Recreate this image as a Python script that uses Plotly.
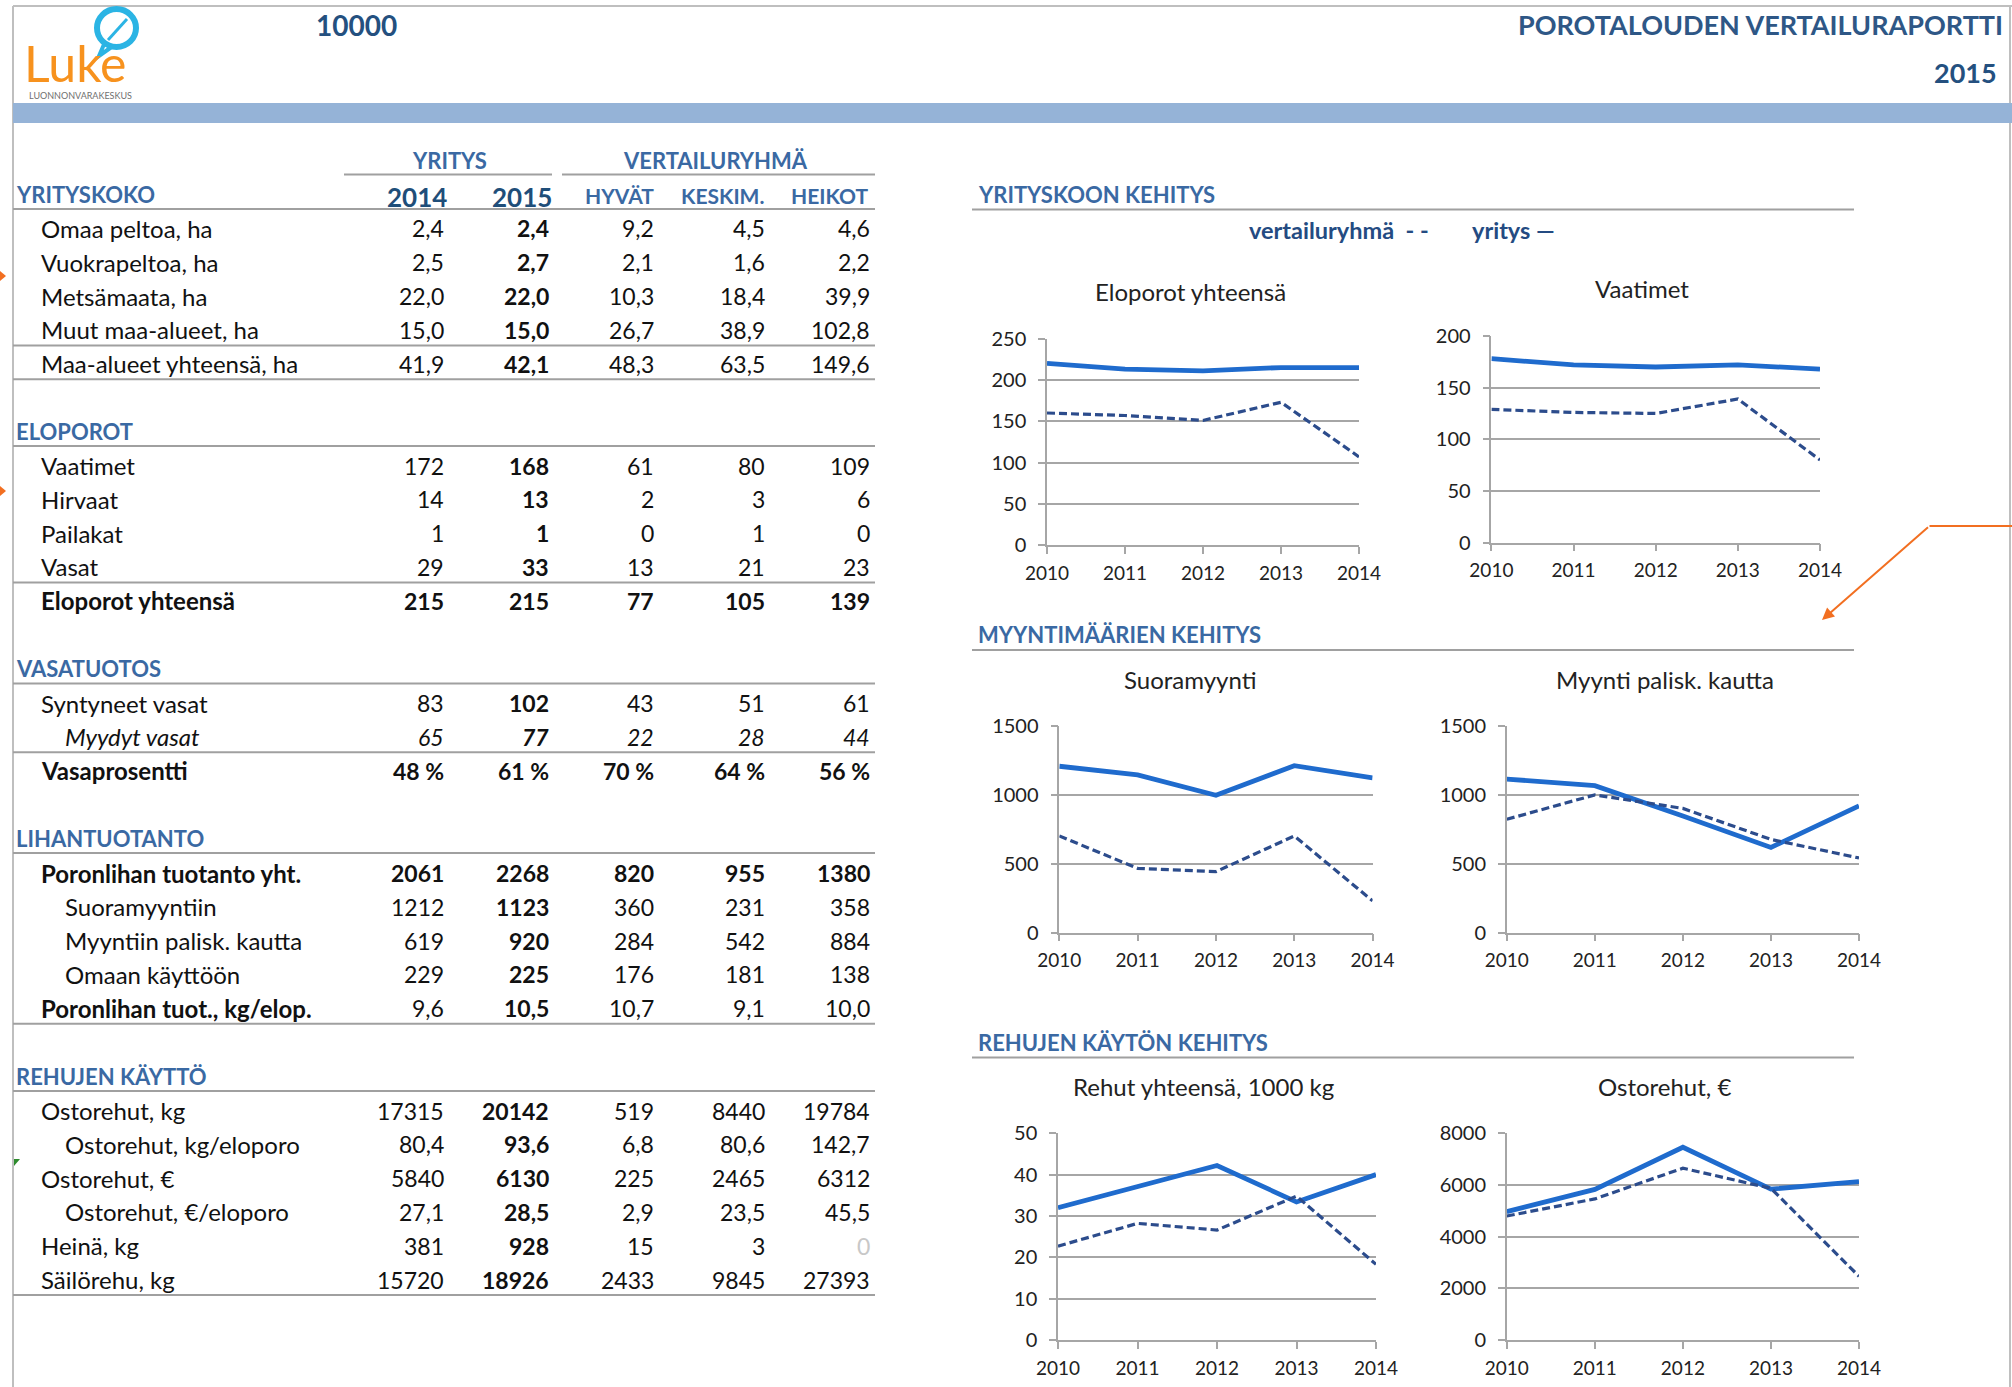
import plotly.graph_objects as go

W, H = 2012, 1387

# ---------------- chart data ----------------
years = [2010, 2011, 2012, 2013, 2014]

eloporot_yritys = [220, 213, 211, 215, 215]
eloporot_vertailu = [160, 157, 151, 173, 107]
vaatimet_yritys = [178, 172, 170, 172, 168]
vaatimet_vertailu = [129, 126, 125, 139, 80]
suora_yritys = [1208, 1145, 997, 1212, 1123]
suora_vertailu = [702, 467, 443, 702, 231]
palisk_yritys = [1115, 1067, 847, 619, 920]
palisk_vertailu = [823, 1000, 902, 677, 542]
rehut_yritys = [32.0, 37.1, 42.2, 33.4, 40.0]
rehut_vertailu = [22.7, 28.2, 26.6, 34.8, 18.3]
ostorehut_yritys = [4970, 5830, 7460, 5840, 6130]
ostorehut_vertailu = [4800, 5460, 6650, 5870, 2465]

chart_titles = ["Eloporot yhteensä", "Vaatimet", "Suoramyynti",
                "Myynti palisk. kautta", "Rehut yhteensä, 1000 kg", "Ostorehut, €"]
chart_section_titles = ["YRITYSKOON KEHITYS", "MYYNTIMÄÄRIEN KEHITYS", "REHUJEN KÄYTÖN KEHITYS"]
legend_texts = ["vertailuryhmä  - -", "yritys —"]

# ---------------- table data ----------------
report_id = "10000"
report_title = "POROTALOUDEN VERTAILURAPORTTI"
report_year = "2015"
col_groups = ["YRITYS", "VERTAILURYHMÄ"]
col_headers = ["2014", "2015", "HYVÄT", "KESKIM.", "HEIKOT"]
section_titles = ["YRITYSKOKO", "ELOPOROT", "VASATUOTOS", "LIHANTUOTANTO", "REHUJEN KÄYTTÖ"]

yrityskoko_labels = ["Omaa peltoa, ha", "Vuokrapeltoa, ha", "Metsämaata, ha",
                     "Muut maa-alueet, ha", "Maa-alueet yhteensä, ha"]
yrityskoko_values = [["2,4", "2,4", "9,2", "4,5", "4,6"],
                     ["2,5", "2,7", "2,1", "1,6", "2,2"],
                     ["22,0", "22,0", "10,3", "18,4", "39,9"],
                     ["15,0", "15,0", "26,7", "38,9", "102,8"],
                     ["41,9", "42,1", "48,3", "63,5", "149,6"]]

eloporot_labels = ["Vaatimet", "Hirvaat", "Pailakat", "Vasat", "Eloporot yhteensä"]
eloporot_values = [["172", "168", "61", "80", "109"],
                   ["14", "13", "2", "3", "6"],
                   ["1", "1", "0", "1", "0"],
                   ["29", "33", "13", "21", "23"],
                   ["215", "215", "77", "105", "139"]]

vasatuotos_labels = ["Syntyneet vasat", "Myydyt vasat", "Vasaprosentti"]
vasatuotos_values = [["83", "102", "43", "51", "61"],
                     ["65", "77", "22", "28", "44"],
                     ["48 %", "61 %", "70 %", "64 %", "56 %"]]

lihantuotanto_labels = ["Poronlihan tuotanto yht.", "Suoramyyntiin", "Myyntiin palisk. kautta",
                        "Omaan käyttöön", "Poronlihan tuot., kg/elop."]
lihantuotanto_values = [["2061", "2268", "820", "955", "1380"],
                        ["1212", "1123", "360", "231", "358"],
                        ["619", "920", "284", "542", "884"],
                        ["229", "225", "176", "181", "138"],
                        ["9,6", "10,5", "10,7", "9,1", "10,0"]]

rehut_labels = ["Ostorehut, kg", "Ostorehut, kg/eloporo", "Ostorehut, €",
                "Ostorehut, €/eloporo", "Heinä, kg", "Säilörehu, kg"]
rehut_values = [["17315", "20142", "519", "8440", "19784"],
                ["80,4", "93,6", "6,8", "80,6", "142,7"],
                ["5840", "6130", "225", "2465", "6312"],
                ["27,1", "28,5", "2,9", "23,5", "45,5"],
                ["381", "928", "15", "3", "0"],
                ["15720", "18926", "2433", "9845", "27393"]]

# ---------------- styling / layout (pixels) ----------------
FONT = "Lato, Carlito, Calibri, 'Open Sans', sans-serif"
SEC_BLUE = "#3A69A3"
NAVY = "#24507F"
GRID = "#A6A6A6"
LINEGREY = "#A0A0A0"
SOLID_C = "#1F6BCD"
DASH_C = "#2C4C8C"
ORANGE = "#F26F21"


def px(x):
    return x / W


def py(y):
    return 1 - y / H


annotations = []
shapes = []


def text(x, y, s, size=23, color="#111", anchor="left", yanchor="middle", family=FONT):
    annotations.append(dict(x=px(x), y=py(y), xref="paper", yref="paper", text=s,
                            showarrow=False, xanchor=anchor, yanchor=yanchor,
                            font=dict(family=family, size=size, color=color)))


def hline(x0, x1, y, color=LINEGREY, width=2):
    shapes.append(dict(type="line", xref="paper", yref="paper", x0=px(x0), x1=px(x1),
                       y0=py(y), y1=py(y), line=dict(color=color, width=width)))


def vline(x, y0, y1, color=LINEGREY, width=2):
    shapes.append(dict(type="line", xref="paper", yref="paper", x0=px(x), x1=px(x),
                       y0=py(y0), y1=py(y1), line=dict(color=color, width=width)))


# page frame and band
hline(13, 2012, 6, color="#BFBFBF", width=2)
vline(13, 6, 1387, color="#BFBFBF", width=2)
vline(2010, 6, 1387, color="#BFBFBF", width=2)
shapes.append(dict(type="rect", xref="paper", yref="paper", x0=px(13), x1=px(2012),
                   y0=py(123), y1=py(103), fillcolor="#95B3D7", line=dict(width=0)))

# logo
shapes.append(dict(type="circle", xref="paper", yref="paper", x0=px(97), x1=px(136),
                   y0=py(47), y1=py(9), line=dict(color="#2BB4E4", width=6)))
shapes.append(dict(type="path", xref="paper", yref="paper",
                   path=f"M {px(105)} {py(42)} L {px(99)} {py(56)} L {px(113)} {py(46)}",
                   line=dict(color="#2BB4E4", width=4)))
shapes.append(dict(type="path", xref="paper", yref="paper",
                   path=f"M {px(108)} {py(40)} L {px(127)} {py(19)}",
                   line=dict(color="#2BB4E4", width=3)))
text(22, 63, "Luke", size=50, color="#F7921E", family="Lato, sans-serif")
text(27, 95.5, "LUONNONVARAKESKUS", size=9, color="#707070")

# header texts
text(314, 25, f"<b>{report_id}</b>", size=28, color=NAVY)
text(2005, 25, f"<b>{report_title}</b>", size=27, color="#2E5786", anchor="right")
text(1999, 73, f"<b>{report_year}</b>", size=27, color=NAVY, anchor="right")

# table header
col_right = [446, 551, 655.5, 766.5, 872]
group_centers = [449.6, 715.6]
group_spans = [(344, 552), (562, 875)]
for g, cx, (a, b) in zip(col_groups, group_centers, group_spans):
    text(cx, 160, f"<b>{g}</b>", size=22, color=SEC_BLUE, anchor="center")
    hline(a, b, 174.5, width=2)

header_right = [448.5, 553.5, 656, 765.5, 871]
for i, (h, xr) in enumerate(zip(col_headers, header_right)):
    if i < 2:
        text(xr, 197, f"<b>{h}</b>", size=26, color="#1F4E79", anchor="right")
    else:
        text(xr, 195, f"<b>{h}</b>", size=21, color=SEC_BLUE, anchor="right")

TABLE_X0, TABLE_X1 = 13, 875
PITCH = 33.8
sections = [
    (yrityskoko_labels, yrityskoko_values),
    (eloporot_labels, eloporot_values),
    (vasatuotos_labels, vasatuotos_values),
    (lihantuotanto_labels, lihantuotanto_values),
    (rehut_labels, rehut_values),
]
heading_y = [194, 431, 668.5, 838, 1076]
first_row_y = [228.5, 465.5, 703, 873, 1110.5]
# style specs per section (row index based)
indent_rows = [[], [], [1], [1, 2, 3], [1, 3]]
bold_rows = [[], [4], [2], [0], []]
bold_label_rows = [[], [4], [2], [0, 4], []]
italic_rows = [[], [], [1], [], []]
separator_after = [[3, 4], [3], [1], [4], [5]]
grey_cells = {(4, 4, 4)}

for s, (labels, values) in enumerate(sections):
    text(14, heading_y[s], f"<b>{section_titles[s]}</b>", size=22, color=SEC_BLUE)
    hline(TABLE_X0, TABLE_X1, heading_y[s] + 15)
    for r, (lab, vals) in enumerate(zip(labels, values)):
        y = first_row_y[s] + r * PITCH
        lx = 63 if r in indent_rows[s] else 38.5
        lt = lab
        if r in bold_label_rows[s]:
            lt = f"<b>{lt}</b>"
        if r in italic_rows[s]:
            lt = f"<i>{lt}</i>"
        text(lx, y, lt, size=24)
        for c, (v, xr) in enumerate(zip(vals, col_right)):
            vt = v
            if r in bold_rows[s] or c == 1:
                vt = f"<b>{vt}</b>"
            if r in italic_rows[s]:
                vt = f"<i>{vt}</i>"
            color = "#C8C8C8" if (s, r, c) in grey_cells else "#111"
            text(xr, y, vt, size=23, color=color, anchor="right")
        if r in separator_after[s]:
            hline(TABLE_X0, TABLE_X1, y + 15.5)

# chart section titles and legend
sec_title_y = [194, 634.5, 1042]
for t, y in zip(chart_section_titles, sec_title_y):
    text(976, y, f"<b>{t}</b>", size=22, color=SEC_BLUE)
    hline(972, 1854, y + 15.5)
text(1247, 229.6, f"<b>{legend_texts[0]}</b>", size=23.5, color="#244B82")
text(1470, 229.6, f"<b>{legend_texts[1]}</b>", size=23.5, color="#244B82")

# orange callout
hline(1929.5, 2012, 526, color=ORANGE, width=2)
annotations.append(dict(x=px(1822), y=py(620), xref="paper", yref="paper", text="",
                        showarrow=True, ax=107.5, ay=-94, arrowcolor=ORANGE,
                        arrowwidth=2, arrowhead=2, arrowsize=1.2))
for yy in (276, 491):
    shapes.append(dict(type="path", xref="paper", yref="paper",
                       path=f"M {px(0)} {py(yy-5)} L {px(6)} {py(yy)} L {px(0)} {py(yy+5)} Z",
                       fillcolor=ORANGE, line=dict(width=0)))
shapes.append(dict(type="path", xref="paper", yref="paper",
                   path=f"M {px(14)} {py(1159)} L {px(20)} {py(1159)} L {px(14)} {py(1166)} Z",
                   fillcolor="#2E8B2E", line=dict(width=0)))

# ---------------- charts ----------------
charts = [
    dict(series=(eloporot_yritys, eloporot_vertailu), xd=(1047, 1359), yd=(338.6, 545.3),
         rng=(0, 250), dt=50, title_xy=(1190, 291)),
    dict(series=(vaatimet_yritys, vaatimet_vertailu), xd=(1491.4, 1820), yd=(336, 542.6),
         rng=(0, 200), dt=50, title_xy=(1642, 288)),
    dict(series=(suora_yritys, suora_vertailu), xd=(1059.3, 1372.6), yd=(726, 932.7),
         rng=(0, 1500), dt=500, title_xy=(1189.5, 679)),
    dict(series=(palisk_yritys, palisk_vertailu), xd=(1506.8, 1859), yd=(726, 932.7),
         rng=(0, 1500), dt=500, title_xy=(1664.5, 679)),
    dict(series=(rehut_yritys, rehut_vertailu), xd=(1058, 1376), yd=(1133.3, 1340),
         rng=(0, 50), dt=10, title_xy=(1203, 1086)),
    dict(series=(ostorehut_yritys, ostorehut_vertailu), xd=(1506.8, 1859), yd=(1133.3, 1340),
         rng=(0, 8000), dt=2000, title_xy=(1664.5, 1086)),
]

fig = go.Figure()
layout_axes = {}
for i, ch in enumerate(charts):
    n = "" if i == 0 else str(i + 1)
    xa, ya = "x" + n, "y" + n
    yr, vr = ch["series"]
    fig.add_trace(go.Scatter(x=years, y=yr, mode="lines", xaxis=xa, yaxis=ya,
                             line=dict(color=SOLID_C, width=4.8), showlegend=False,
                             hoverinfo="skip"))
    fig.add_trace(go.Scatter(x=years, y=vr, mode="lines", xaxis=xa, yaxis=ya,
                             line=dict(color=DASH_C, width=3.2, dash="8px,4px"),
                             showlegend=False, hoverinfo="skip"))
    layout_axes["xaxis" + n] = dict(
        domain=[px(ch["xd"][0]), px(ch["xd"][1])], anchor=ya, range=[2010, 2014],
        tickvals=years, ticktext=[str(y) for y in years], showgrid=False, zeroline=False,
        showline=True, linecolor=GRID, linewidth=1.5, ticks="outside", ticklen=7,
        tickcolor=GRID, tickwidth=1.5, ticklabelstandoff=3, automargin=False,
        tickfont=dict(family=FONT, size=19, color="#222"), fixedrange=True)
    layout_axes["yaxis" + n] = dict(
        domain=[py(ch["yd"][1]), py(ch["yd"][0])], anchor=xa, range=list(ch["rng"]),
        dtick=ch["dt"], tick0=0, showgrid=True, gridcolor=GRID, gridwidth=1.5,
        zeroline=False, showline=True, linecolor=GRID, linewidth=1.5,
        ticks="outside", ticklen=7, tickcolor=GRID, tickwidth=1.5, ticklabelstandoff=8,
        automargin=False,
        tickfont=dict(family=FONT, size=20, color="#222"), fixedrange=True)
    tx, ty = ch["title_xy"]
    text(tx, ty, chart_titles[i], size=24, color="#222", anchor="center")

fig.update_layout(
    width=W, height=H, autosize=False,
    margin=dict(l=0, r=0, t=0, b=0, pad=0, autoexpand=False),
    paper_bgcolor="white", plot_bgcolor="white",
    annotations=annotations, shapes=shapes, **layout_axes,
)

post = (
    "document.documentElement.style.margin='0';document.body.style.margin='0';"
    "document.body.style.padding='0';document.body.style.overflow='hidden';"
)

fig.write_html("out.html", config={"displayModeBar": False}, post_script=post)
